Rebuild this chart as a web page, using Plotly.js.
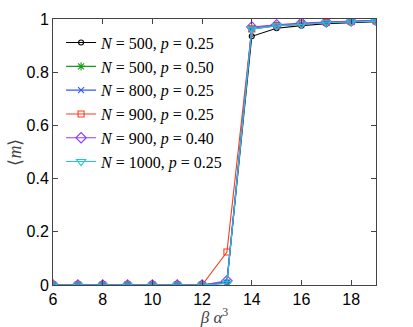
<!DOCTYPE html>
<html><head><meta charset="utf-8">
<script src="https://cdn.plot.ly/plotly-3.0.1.min.js"></script>
<style>body{margin:0;background:#fff}#c{width:413px;height:327px}</style>
</head><body><div id="c"></div>
<script>
const xs = [6,7,8,9,10,11,12,13,14,15,16,17,18,19];
const m_500_025  = [0,0,0,0,0,0,0,0.01,0.935,0.965,0.975,0.982,0.987,0.99];
const m_500_050  = [0,0,0,0,0,0,0,0.008,0.965,0.975,0.982,0.987,0.99,0.993];
const m_800_025  = [0,0,0,0,0,0,0,0.008,0.963,0.975,0.982,0.987,0.99,0.993];
const m_900_025  = [0,0,0,0,0,0,0,0.124,0.963,0.975,0.982,0.987,0.99,0.993];
const m_900_040  = [0,0,0,0,0,0,0,0.016,0.97,0.978,0.985,0.989,0.992,0.995];
const m_1000_025 = [0,0,0,0,0,0,0,0.006,0.962,0.974,0.981,0.986,0.989,0.992];
const labels = ['<i>N</i> = 500, <i>p</i> = 0.25','<i>N</i> = 500, <i>p</i> = 0.50','<i>N</i> = 800, <i>p</i> = 0.25','<i>N</i> = 900, <i>p</i> = 0.25','<i>N</i> = 900, <i>p</i> = 0.40','<i>N</i> = 1000, <i>p</i> = 0.25'];
const series = [m_500_025,m_500_050,m_800_025,m_900_025,m_900_040,m_1000_025];
const colors = ['#000000','#1a9a1a','#3355ff','#ff3a1a','#8a3cff','#1ec8d8'];
const symbols = ['circle-open','asterisk-open','x-thin-open','square-open','diamond-open','triangle-down-open'];
const sizes = [5,7,6,6,8,8];
const traces = series.map((ys,i)=>({
  x: xs, y: ys, name: labels[i], type:'scatter', mode:'lines+markers',
  line:{color:colors[i], width:1.1},
  marker:{symbol:symbols[i], size:sizes[i], color:colors[i], line:{color:colors[i], width:1.1}}
}));
const layout = {
  width:413, height:327,
  margin:{l:53, r:37, t:19, b:42},
  paper_bgcolor:'#fff', plot_bgcolor:'#fff',
  showlegend:true,
  legend:{x:0.025, y:0.975, xanchor:'left', yanchor:'top', bgcolor:'rgba(255,255,255,0)', borderwidth:0,
    font:{family:'Liberation Serif', size:16, color:'#000'}, tracegroupgap:0, itemwidth:30},
  xaxis:{range:[6,19], tickvals:[6,8,10,12,14,16,18], ticks:'inside', ticklen:5, tickcolor:'#444',
    showline:true, linecolor:'#444', linewidth:1, mirror:'ticks', showgrid:false, zeroline:false,
    tickfont:{family:'Liberation Sans', size:16, color:'#000'},
    title:{text:'<i>β α</i><sup>3</sup>', font:{family:'Liberation Serif', size:17, color:'#444'}, standoff:0}},
  yaxis:{range:[0,1], tickvals:[0,0.2,0.4,0.6,0.8,1], ticktext:['0','0.2','0.4','0.6','0.8','1'], ticks:'inside', ticklen:5, tickcolor:'#444',
    showline:true, linecolor:'#444', linewidth:1, mirror:'ticks', showgrid:false, zeroline:false,
    tickfont:{family:'Liberation Sans', size:16, color:'#000'},
    title:{text:'⟨<i>m</i>⟩', font:{family:'Liberation Serif', size:18, color:'#444'}, standoff:0}}
};
Plotly.newPlot('c', traces, layout, {displayModeBar:false, staticPlot:true});
</script></body></html>
